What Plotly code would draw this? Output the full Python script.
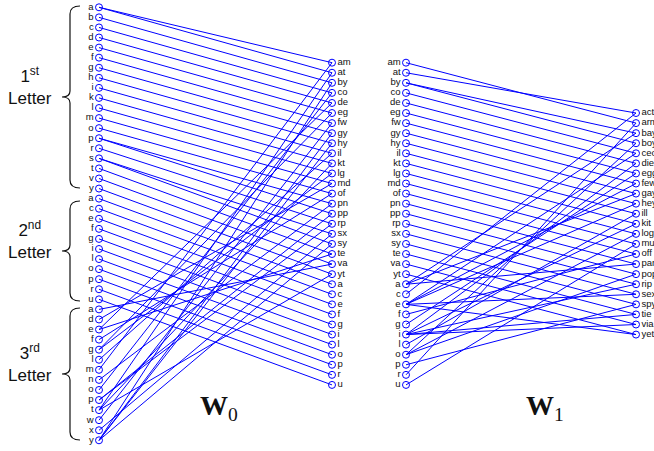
import plotly.graph_objects as go

# ---------------- data ----------------
first_letters = ["a", "b", "c", "d", "e", "f", "g", "h", "i", "k", "l", "m", "o", "p", "r", "s", "t", "v", "y"]
second_letters = ["a", "c", "e", "f", "g", "i", "l", "o", "p", "r", "u"]
third_letters = ["a", "d", "e", "f", "g", "l", "m", "n", "o", "p", "t", "w", "x", "y"]
bigrams = ["am", "at", "by", "co", "de", "eg", "fw", "gy", "hy", "il", "kt", "lg", "md", "of",
           "pn", "pp", "rp", "sx", "sy", "te", "va", "yt"]
words = ["act", "arm", "bay", "boy", "ceo", "die", "egg", "few", "gay", "hey", "ill", "kit",
         "log", "mud", "off", "pan", "pop", "rip", "sex", "spy", "tie", "via", "yet"]
group_titles = ["1<sup>st</sup><br>Letter", "2<sup>nd</sup><br>Letter", "3<sup>rd</sup><br>Letter"]
weight_titles = ["<b>W</b><sub>0</sub>", "<b>W</b><sub>1</sub>"]

# ---------------- layout helpers ----------------
W, H = 654, 451
SP = 10.07          # vertical node spacing (px)
YC = 223.8          # vertical centre of every column
COLX = [99, 332, 406, 636]
BLUE = "#0000ff"


def col_y(n):
    return [YC + (i - (n - 1) / 2) * SP for i in range(n)]


col1 = [("1", c) for c in first_letters] + [("2", c) for c in second_letters] + [("3", c) for c in third_letters]
col2 = [("b", b) for b in bigrams] + [("2", c) for c in second_letters]
col3 = list(col2)
col4 = [("w", w) for w in words]
cols = [col1, col2, col3, col4]
ys = [col_y(len(c)) for c in cols]
pos = [{node: (COLX[k], y) for node, y in zip(cols[k], ys[k])} for k in range(4)]

# edges W0: col1 -> col2
e0 = []
for b in bigrams:
    e0.append((("1", b[0]), ("b", b)))
    e0.append((("3", b[1]), ("b", b)))
for c in second_letters:
    e0.append((("2", c), ("2", c)))
# edges W1: col3 -> col4
e1 = []
for w in words:
    e1.append((("b", w[0] + w[2]), ("w", w)))
    e1.append((("2", w[1]), ("w", w)))

fig = go.Figure()


def add_edges(edges, a, b):
    xs, yv = [], []
    for s, t in edges:
        x0, y0 = pos[a][s]
        x1, y1 = pos[b][t]
        xs += [x0, x1, None]
        yv += [y0, y1, None]
    fig.add_trace(go.Scatter(x=xs, y=yv, mode="lines", line=dict(color=BLUE, width=1),
                             hoverinfo="skip", showlegend=False))


add_edges(e0, 0, 1)
add_edges(e1, 2, 3)

for k in range(4):
    fig.add_trace(go.Scatter(
        x=[COLX[k]] * len(cols[k]), y=ys[k], mode="markers+text",
        text=[n[1] for n in cols[k]],
        textposition="middle left" if k in (0, 2) else "middle right",
        textfont=dict(family="Liberation Sans, Arial", size=9.5, color="#111"),
        marker=dict(symbol="circle-open", size=7, color=BLUE, line=dict(width=1, color=BLUE)),
        cliponaxis=False, showlegend=False, hoverinfo="text"))

# braces and group titles
braces = [(6, 188), (201, 301), (308, 440)]
for (t, b), title in zip(braces, group_titles):
    m = (t + b) / 2
    path = (f"M 80,{t} Q 70,{t} 70,{t+8} L 70,{m-6} Q 70,{m} 62,{m} "
            f"Q 70,{m} 70,{m+6} L 70,{b-8} Q 70,{b} 80,{b}")
    fig.add_shape(type="path", path=path, xref="x", yref="y",
                  line=dict(color="#111", width=1.2))
    fig.add_annotation(x=30, y=m - 11, text=title, showarrow=False, xref="x", yref="y",
                       font=dict(family="Liberation Sans, Arial", size=17, color="#111"),
                       align="center")

for xw, t in zip([219, 545], weight_titles):
    fig.add_annotation(x=xw, y=407, text=t, showarrow=False, xref="x", yref="y",
                       font=dict(family="Liberation Serif, Times New Roman", size=28, color="#111"))

fig.update_layout(
    width=W, height=H, margin=dict(l=0, r=0, t=0, b=0),
    plot_bgcolor="white", paper_bgcolor="white",
    xaxis=dict(range=[0, W], visible=False, fixedrange=True),
    yaxis=dict(range=[H, 0], visible=False, fixedrange=True),
)
fig.write_html("out.html", config={"displayModeBar": False},
               post_script="document.body.style.margin='0';document.documentElement.style.overflow='hidden';")
